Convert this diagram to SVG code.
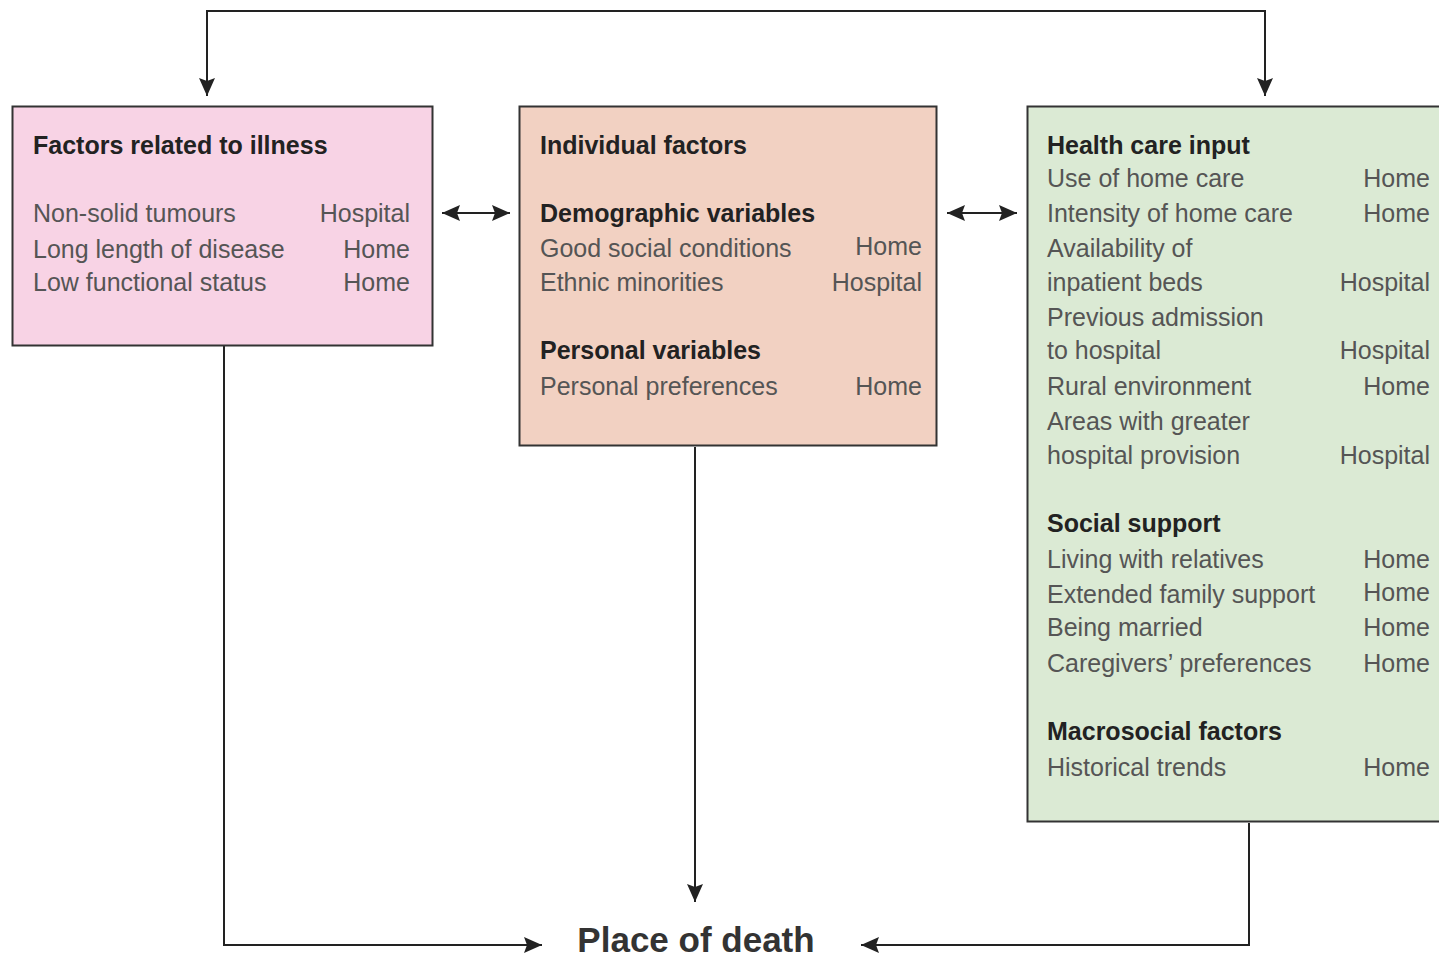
<svg xmlns="http://www.w3.org/2000/svg" width="1439" height="957" viewBox="0 0 1439 957">
<style>
  .box { stroke: #333; stroke-width: 2; }
  .h { font-family: "Liberation Sans", Arial, sans-serif; font-size: 25px; font-weight: bold; fill: #222; }
  .t { font-family: "Liberation Sans", Arial, sans-serif; font-size: 25px; fill: #555; }
  .r { text-anchor: end; }
  .conn { fill: none; stroke: #222; stroke-width: 2; }
  .title { font-family: "Liberation Sans", Arial, sans-serif; font-size: 35px; font-weight: bold; fill: #333; }
</style>
<defs>
  <marker id="arr" markerUnits="userSpaceOnUse" markerWidth="20" markerHeight="18" refX="18" refY="9" orient="auto-start-reverse">
    <path d="M0,1 L18,9 L0,17 L3,9 z" fill="#222"/>
  </marker>
</defs>
<rect width="1439" height="957" fill="#fff"/>

<g id="connectors">
  <path class="conn" d="M207,96 V11 H1265 V96" marker-start="url(#arr)" marker-end="url(#arr)"/>
  <path class="conn" d="M442,213 H510" marker-start="url(#arr)" marker-end="url(#arr)"/>
  <path class="conn" d="M947,213 H1017" marker-start="url(#arr)" marker-end="url(#arr)"/>
  <path class="conn" d="M224,346 V945 H542" marker-end="url(#arr)"/>
  <path class="conn" d="M695,447 V902" marker-end="url(#arr)"/>
  <path class="conn" d="M1249,823 V945 H861" marker-end="url(#arr)"/>
</g>

<g id="illness">
  <rect class="box" x="12.5" y="106.5" width="420" height="239" fill="#f8d3e5"/>
  <text class="h" x="33" y="154">Factors related to illness</text>
  <text class="t" x="33" y="222">Non-solid tumours</text>
  <text class="t r" x="410" y="222">Hospital</text>
  <text class="t" x="33" y="258">Long length of disease</text>
  <text class="t r" x="410" y="258">Home</text>
  <text class="t" x="33" y="291">Low functional status</text>
  <text class="t r" x="410" y="291">Home</text>
</g>

<g id="individual">
  <rect class="box" x="519.5" y="106.5" width="417" height="339" fill="#f2d1c2"/>
  <text class="h" x="540" y="154">Individual factors</text>
  <text class="h" x="540" y="222">Demographic variables</text>
  <text class="t" x="540" y="257">Good social conditions</text>
  <text class="t r" x="922" y="255">Home</text>
  <text class="t" x="540" y="291">Ethnic minorities</text>
  <text class="t r" x="922" y="291">Hospital</text>
  <text class="h" x="540" y="359">Personal variables</text>
  <text class="t" x="540" y="395">Personal preferences</text>
  <text class="t r" x="922" y="395">Home</text>
</g>

<g id="healthcare">
  <rect class="box" x="1027.5" y="106.5" width="430" height="715" fill="#dbead4"/>
  <text class="h" x="1047" y="154">Health care input</text>
  <text class="t" x="1047" y="187">Use of home care</text>
  <text class="t r" x="1430" y="187">Home</text>
  <text class="t" x="1047" y="222">Intensity of home care</text>
  <text class="t r" x="1430" y="222">Home</text>
  <text class="t" x="1047" y="257">Availability of</text>
  <text class="t" x="1047" y="291">inpatient beds</text>
  <text class="t r" x="1430" y="291">Hospital</text>
  <text class="t" x="1047" y="326">Previous admission</text>
  <text class="t" x="1047" y="359">to hospital</text>
  <text class="t r" x="1430" y="359">Hospital</text>
  <text class="t" x="1047" y="395">Rural environment</text>
  <text class="t r" x="1430" y="395">Home</text>
  <text class="t" x="1047" y="430">Areas with greater</text>
  <text class="t" x="1047" y="464">hospital provision</text>
  <text class="t r" x="1430" y="464">Hospital</text>
  <text class="h" x="1047" y="532">Social support</text>
  <text class="t" x="1047" y="568">Living with relatives</text>
  <text class="t r" x="1430" y="568">Home</text>
  <text class="t" x="1047" y="603">Extended family support</text>
  <text class="t r" x="1430" y="601">Home</text>
  <text class="t" x="1047" y="636">Being married</text>
  <text class="t r" x="1430" y="636">Home</text>
  <text class="t" x="1047" y="672">Caregivers’ preferences</text>
  <text class="t r" x="1430" y="672">Home</text>
  <text class="h" x="1047" y="740">Macrosocial factors</text>
  <text class="t" x="1047" y="776">Historical trends</text>
  <text class="t r" x="1430" y="776">Home</text>
</g>

<g id="place">
  <text class="title" x="696" y="952" text-anchor="middle">Place of death</text>
</g>
</svg>
